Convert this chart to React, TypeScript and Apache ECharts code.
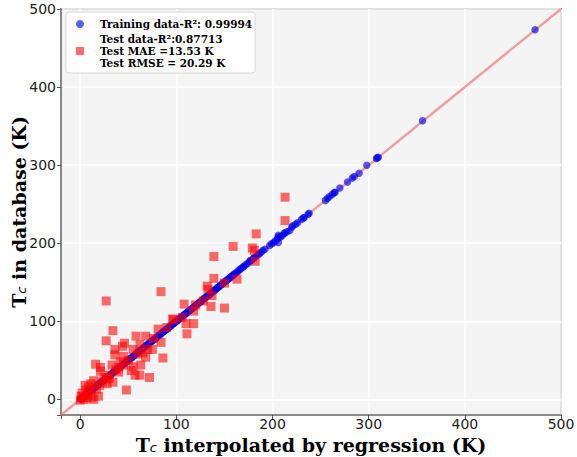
import React, { useEffect, useRef } from 'react';
import * as echarts from 'echarts';

const axisMin = -20;
const axisMax = 500;

const trainData: number[][] = [
  [0,0.5],[0.5,1],[1,1.2],[1.5,1.3],[2,2.4],[2.5,2.2],[3,3.3],[3.5,3.4],[4,4.2],[5,4.8],[5.5,5.7],[6,6.3],[7,6.8],[7.5,7.9],[8,8.1],[9,9.2],[10,9.8],[11,11.3],[12,12.1],[13,12.7],[14,14.2],[15,15.3],[16,15.8],[17,17.2],[18,18.3],[19,18.8],[20,20.4],[21,21.1],[22,22.3],[23,22.8],[24,24.2],[25,25.4],[26,25.8],[27,27.3],[28,28.1],[29,29.4],[30,29.8],[31,31.2],[32,32.3],[33,32.7],[34,34.4],[35,35.1],[36,36.2],[37,36.8],[38,38.3],[39,39.1],[40,40.4],[41,40.8],[42,42.2],[43,43.3],[44,43.8],[45,45.2],[46,46.4],[47,46.9],[48,48.2],[49,49.3],[50,49.8],[51,51.2],[52,52.4],[53,53.1],[54,53.8],[55,55.3],[56,56.2],[57,56.9],[58,58.4],[59,59.1],[60,60.2],[61,60.8],[62,62.3],[63,63.2],[64,63.7],[65,65.4],[66,66.1],[67,67.2],[68,67.8],[69,69.3],[70,70.2],[71,70.8],[72,72.4],[73,73.1],[74,74.3],[75,74.8],[76,76.2],[77,77.4],[78,78.1],[79,78.7],[80,80.3],[81,81.2],[82,82.4],[83,82.8],[84,84.2],[85,85.3],[86,85.9],[87,87.2],[88,88.4],[89,89.1],[90,89.7],[91,91.3],[92,92.2],[93,93.4],[94,93.8],[95,95.2],[96,96.3],[97,97.1],[98,97.8],[99,99.3],[100,100.2],[101,101.4],[102,101.8],[103,103.2],[104,104.3],[105,105.1],[106,105.7],[107,107.3],[108,108.2],[109,109.4],[110,109.8],[111,111.2],[112,112.3],[113,113.1],[114,113.7],[115,115.4],[116,116.1],[117,117.2],[118,117.8],[119,119.3],[120,120.2],[121,121.4],[122,121.8],[123,123.2],[124,124.3],[125,125.1],[126,125.7],[127,127.3],[128,128.2],[129,129.4],[130,129.8],[131,131.2],[132,132.3],[133,133.1],[134,133.8],[135,135.3],[136,136.2],[137,137.4],[138,137.8],[139,139.2],[140,140.3],[141,140.8],[142,142.2],[143,143.4],[144,143.9],[145,145.2],[146,146.3],[147,147.1],[148,147.8],[149,149.3],[150,150.2],[151,150.8],[152,152.4],[153,153.1],[154,153.9],[155,155.2],[156,156.3],[157,156.8],[158,158.4],[159,159.1],[160,160.3],[161,161.2],[163,162.8],[164,164.3],[166,166.4],[167,167.2],[169,169.3],[170,170.1],[172,172.3],[174,174.1],[176,176.4],[177,177.8],[178,178.2],[180,180.3],[181,181.6],[183,183.2],[185,185.7],[186,186.2],[188,188.4],[190,190.6],[192,192.3],[197,197.1],[199,199.4],[201,200.6],[203,203.2],[205,205.4],[206,201],[206,208],[206,210.2],[208,207.6],[210,209.5],[212,212.4],[213,213.3],[215,214.6],[218,216.2],[220,220.8],[221,222.2],[224,224.3],[226,226.1],[230,230.4],[232,232.4],[233,232.8],[237,237.2],[238,238.3],[255,254.6],[257,257.2],[259,259.4],[262,262.3],[264,264.6],[265,265.2],[270,270.8],[278,278.3],[283,283.4],[285,285.4],[290,289.6],[298,299.8],[308,308.6],[309,309.6],[310,310.2],[356,356.8],[473,473.4]
];

const testData: number[][] = [
  [213,259],[213,229],[159,196],[183,212],[179,194],[181,191],[182,177],[139,183],[139,155],[163,154],
  [84,138],[132,145],[133,141],[137,133],[108,122],[136,119],[150,117],[118,113],[106,105],[96,103],
  [27,126],[97,102],[110,97],[118,97],[111,84],[34,88],[27,75],[58,81],[68,81],[76,78],
  [81,90],[84,73],[46,72],[44,68],[62,70],[36,64],[55,64],[70,64],[75,64],[36,57],
  [45,55],[68,54],[86,53],[16,45],[21,41],[21,36],[33,44],[40,41],[53,37],[55,42],
  [62,31],[57,31],[72,28],[30,31],[27,26],[14,24],[5,18],[28,20],[48,12],[17,13],
  [14,0],[19,4],[3,3],[0,-1],[63,44],[34,22],[37,38],[42,48],[50,50],[60,58],
  [65,60],[25,28],[10,10],[8,5],[2,8],[6,12],[12,3],[4,0],[1,4],[9,16],
  [7,2],[11,20],[20,18],[23,22],[30,27],[40,35],[45,44],[120,121],[128,126],[90,92],[150,149]
];

const diagLine: number[][] = [[axisMin, axisMin], [axisMax, axisMax]];

const trainLabel = 'Training data-R²: 0.99994';
const testLabel = 'Test data-R²:0.87713\nTest MAE =13.53 K\nTest RMSE = 20.29 K';
const xTitle = '{t|T}{s|c}{t| interpolated by regression (K)}';
const yTitle = '{t|T}{s|c}{t| in database (K)}';

const serif = '"DejaVu Serif", serif';
const sans = '"DejaVu Sans", sans-serif';

const titleRich = {
  t: { fontFamily: serif, fontWeight: 'bold', fontSize: 19, lineHeight: 18, color: '#000' },
  s: { fontFamily: sans, fontStyle: 'italic', fontSize: 13, lineHeight: 13, color: '#000', verticalAlign: 'bottom' },
};

export default function App() {
  const ref = useRef<HTMLDivElement>(null);
  useEffect(() => {
    const chart = echarts.init(ref.current!, null, { renderer: 'svg' });
    const axisCommon = {
      type: 'value',
      min: axisMin,
      max: axisMax,
      splitNumber: 5,
      nameLocation: 'middle',
      nameMoveOverlap: false,
      axisLine: { show: true, onZero: false, lineStyle: { color: '#888', width: 2 } },
      axisTick: { show: true, length: 4, lineStyle: { color: '#555', width: 1 } },
      axisLabel: {
        fontFamily: sans,
        fontSize: 14,
        lineHeight: 14,
        color: '#222',
        formatter: (v: number) => (v < 0 ? '' : String(v)),
      },
      splitLine: { show: true, lineStyle: { color: '#ffffff', width: 1.5 } },
    };
    chart.setOption({
      animation: false,
      backgroundColor: '#ffffff',
      grid: {
        left: 61,
        right: 16,
        top: 9,
        bottom: 42,
        outerBoundsMode: 'none',
        containLabel: false,
        show: true,
        backgroundColor: '#f4f4f4',
        borderColor: '#888',
        borderWidth: 2,
      },
      xAxis: {
        ...axisCommon,
        name: xTitle,
        nameGap: 21,
        nameTextStyle: { rich: titleRich },
        axisLabel: { ...axisCommon.axisLabel, margin: 2 },
      },
      yAxis: {
        ...axisCommon,
        name: yTitle,
        nameGap: 33,
        nameRotate: 90,
        nameTextStyle: { rich: titleRich },
        axisLabel: { ...axisCommon.axisLabel, margin: 5 },
      },
      legend: {
        data: ['train', 'test'],
        orient: 'vertical',
        left: 66,
        top: 12,
        padding: [6, 3, 4, 10],
        itemGap: 3,
        itemWidth: 8,
        itemHeight: 8,
        backgroundColor: 'rgba(255,255,255,0.85)',
        borderColor: '#d8d8d8',
        borderWidth: 1,
        borderRadius: 3,
        formatter: (name: string) => (name === 'train' ? trainLabel : testLabel),
        textStyle: {
          fontFamily: serif,
          fontWeight: 'bold',
          fontSize: 10.5,
          lineHeight: 12,
          color: '#000',
          padding: [0, 0, 0, 11],
        },
      },
      series: [
        {
          type: 'line',
          data: diagLine,
          symbol: 'none',
          silent: true,
          lineStyle: { color: 'rgba(240,110,110,0.65)', width: 2.4 },
          z: 1,
        },
        {
          name: 'train',
          type: 'scatter',
          data: trainData,
          symbol: 'circle',
          symbolSize: 7.5,
          itemStyle: { color: 'rgba(0,0,240,0.8)' },
          z: 2,
        },
        {
          name: 'test',
          type: 'scatter',
          data: testData,
          symbol: 'rect',
          symbolSize: 9,
          itemStyle: { color: 'rgba(255,0,0,0.72)' },
          z: 3,
        },
      ],
    });
    return () => chart.dispose();
  }, []);
  return <div ref={ref} style={{ position: 'fixed', left: 0, top: 0, width: 577, height: 457 }} />;
}
